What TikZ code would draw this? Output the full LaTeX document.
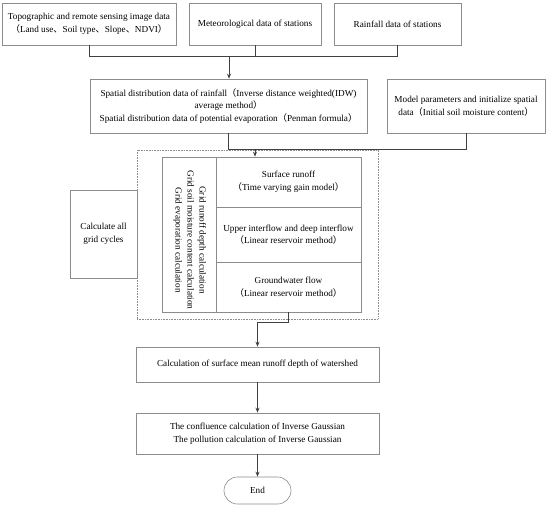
\documentclass[tikz,border=0pt]{standalone}
\usepackage{fontspec}
\setmainfont{Liberation Serif}
\newfontfamily\cjk{Noto Sans CJK SC}
\newcommand{\lpar}{{\cjk （}}
\newcommand{\rpar}{{\cjk ）}}
\newcommand{\dun}{{\cjk 、}}
\usetikzlibrary{arrows.meta}
\begin{document}
\begin{tikzpicture}[x=1pt,y=-1pt,
  every node/.style={font=\fontsize{9.2}{12.6}\selectfont, align=center, inner sep=0pt},
  box/.style={draw=black!45, line width=0.6pt},
  conn/.style={draw=black!75, line width=0.8pt},
  arr/.style={conn, -{Stealth[length=5pt,width=4pt]}}]
\useasboundingbox (0,0) rectangle (550,509);
\node[box, minimum width=174pt, minimum height=42pt] (b1) at (89,24) {Topographic and remote sensing image data\\\lpar Land use\dun Soil type\dun Slope\dun NDVI\rpar};
\node[box, minimum width=132pt, minimum height=42pt] (b2) at (255,24) {Meteorological data of stations};
\node[box, minimum width=127pt, minimum height=42pt] (b3) at (397.5,24) {Rainfall data of stations};
\node[box, minimum width=277pt, minimum height=54pt] (b4) at (228.5,106) {Spatial distribution data of rainfall\lpar Inverse distance weighted(IDW)\\average method\rpar\\Spatial distribution data of potential evaporation\lpar Penman formula\rpar};
\node[box, minimum width=158pt, minimum height=54pt] (b5) at (466,106) {Model parameters and initialize spatial\\data\lpar Initial soil moisture content\rpar};
\node[draw=black!45, dash pattern=on 0.8pt off 0.8pt, line width=0.6pt, minimum width=241pt, minimum height=169pt] (loop) at (257.5,234.5) {};
\node[box, minimum width=54pt, minimum height=155pt] (col) at (189,234.5) {};
\node[rotate=-90, font=\fontsize{9.2}{12}\selectfont] (coltext) at (190,240) {Grid runoff depth calculation\\Grid soil moisture content calculation\\Grid evaporation calculation};
\node[box, minimum width=145pt, minimum height=50pt] (c1) at (288.5,182) {Surface runoff\\\lpar Time varying gain model\rpar};
\node[box, minimum width=145pt, minimum height=55pt] (c2) at (288.5,234.5) {Upper interflow and deep interflow\\\lpar Linear reservoir method\rpar};
\node[box, minimum width=145pt, minimum height=50pt] (c3) at (288.5,287) {Groundwater flow\\\lpar Linear reservoir method\rpar};
\node[box, minimum width=67pt, minimum height=88pt] (calc) at (103.5,234) {Calculate all\\grid cycles};
\node[box, minimum width=243pt, minimum height=35pt] (b6) at (257.5,364.5) {Calculation of surface mean runoff depth of watershed};
\node[box, minimum width=243pt, minimum height=41pt] (b7) at (257.5,433.5) {The confluence calculation of Inverse Gaussian\\The pollution calculation of Inverse Gaussian};
\node[box, minimum width=67pt, minimum height=27pt, rounded corners=13.5pt] (end) at (257.5,490.5) {End};
\coordinate (j1) at (229,56);
\coordinate (j2) at (255,149);
\draw[conn] (b1.south) -- ++(0,11) -| (b3.south);
\draw[conn] (b2.south) -- (b2.south |- j1);
\draw[arr] (j1) -- (j1 |- b4.north);
\draw[conn] (b4.south) -- ++(0,16) -| (b5.south);
\draw[arr] (j2) -- (j2 |- c1.north);
\draw[arr] (c3.south) -- ++(0,10) -| (b6.north);
\draw[arr] (b6.south) -- (b7.north);
\draw[arr] (b7.south) -- (end.north);
\end{tikzpicture}
\end{document}
